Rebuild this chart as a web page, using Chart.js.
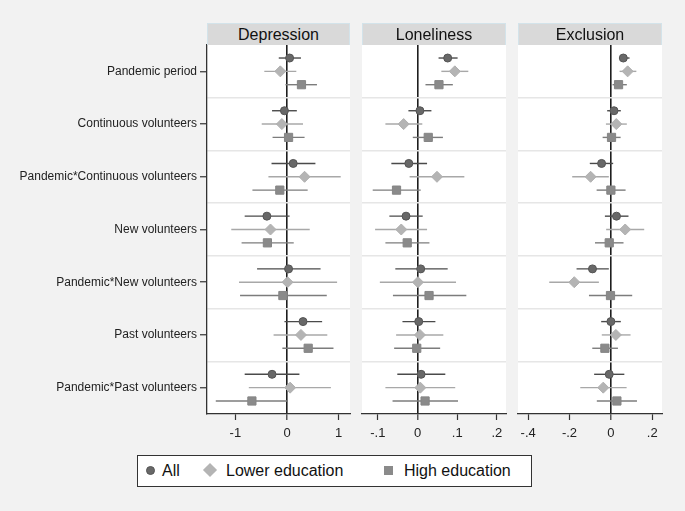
<!DOCTYPE html>
<html>
<head>
<meta charset="utf-8">
<script src="https://cdn.jsdelivr.net/npm/chart.js@4.4.1/dist/chart.umd.min.js"></script>
<style>
  html, body { margin: 0; padding: 0; background: #f2f2f2; }
  #wrap { position: relative; width: 685px; height: 511px; overflow: hidden; font-family: "Liberation Sans", Arial, sans-serif; }
  #wrap canvas { position: absolute; left: 0; top: 0; }
  .head { position: absolute; top: 23px; height: 22px; box-sizing: border-box; background: #d9d9d9; border: 1px solid #d3e3ea; border-bottom: none; text-align: center; font-size: 16px; line-height: 21px; color: #111; }
  #legend { position: absolute; left: 137px; top: 455px; width: 395px; height: 32px; box-sizing: border-box; background: #fff; border: 1px solid #333; font-size: 16px; color: #111; }
  #legend span { position: absolute; top: 6px; }
  .mk { position: absolute; }
</style>
</head>
<body>
<div id="wrap">
  <canvas id="c1" width="685" height="511"></canvas>
  <canvas id="c2" width="685" height="511"></canvas>
  <canvas id="c3" width="685" height="511"></canvas>
  <div class="head" style="left:207px;width:143px">Depression</div>
  <div class="head" style="left:362px;width:144px">Loneliness</div>
  <div class="head" style="left:518px;width:144px">Exclusion</div>
  <div id="legend">
    <div class="mk" style="left:8px;top:10px;width:9px;height:9px;border-radius:50%;background:#686868;border:1px solid #555;box-sizing:border-box"></div>
    <span style="left:24px">All</span>
    <div class="mk" style="left:67px;top:9px;width:10px;height:10px;background:#b4b4b4;transform:rotate(45deg)"></div>
    <span style="left:88px">Lower education</span>
    <div class="mk" style="left:246px;top:10px;width:9px;height:9px;background:#8a8a8a"></div>
    <span style="left:266px">High education</span>
  </div>
</div>
<script>
const categories = ['Pandemic period', 'Continuous volunteers', 'Pandemic*Continuous volunteers', 'New volunteers',
    'Pandemic*New volunteers', 'Past volunteers', 'Pandemic*Past volunteers']
const groups = ['All', 'Lower education', 'High education']

// Depression: estimate, lower CI, upper CI
const depAll = [0.05, -0.05, 0.12, -0.39, 0.03, 0.31, -0.29]
const depAllLo = [-0.16, -0.29, -0.30, -0.82, -0.58, -0.05, -0.82]
const depAllHi = [0.27, 0.19, 0.55, 0.05, 0.65, 0.68, 0.24]
const depLow = [-0.13, -0.10, 0.34, -0.32, 0.01, 0.27, 0.06]
const depLowLo = [-0.44, -0.49, -0.36, -1.08, -0.93, -0.26, -0.74]
const depLowHi = [0.18, 0.31, 1.04, 0.44, 0.97, 0.78, 0.85]
const depHigh = [0.28, 0.03, -0.14, -0.38, -0.08, 0.41, -0.68]
const depHighLo = [-0.03, -0.28, -0.67, -0.88, -0.91, -0.09, -1.38]
const depHighHi = [0.58, 0.34, 0.40, 0.13, 0.77, 0.90, 0.00]

// Loneliness
const lonAll = [0.076, 0.006, -0.022, -0.029, 0.008, 0.003, 0.009]
const lonAllLo = [0.053, -0.023, -0.066, -0.071, -0.056, -0.038, -0.051]
const lonAllHi = [0.101, 0.035, 0.024, 0.013, 0.076, 0.045, 0.070]
const lonLow = [0.094, -0.035, 0.049, -0.041, 0.001, 0.006, 0.007]
const lonLowLo = [0.060, -0.081, -0.020, -0.107, -0.095, -0.054, -0.081]
const lonLowHi = [0.128, 0.012, 0.118, 0.024, 0.097, 0.065, 0.095]
const lonHigh = [0.054, 0.027, -0.053, -0.026, 0.029, -0.002, 0.019]
const lonHighLo = [0.020, -0.012, -0.113, -0.081, -0.062, -0.059, -0.063]
const lonHighHi = [0.089, 0.064, 0.008, 0.030, 0.123, 0.057, 0.102]

// Exclusion
const excAll = [0.060, 0.015, -0.045, 0.027, -0.089, 0.000, -0.008]
const excAllLo = [0.040, -0.018, -0.102, -0.029, -0.166, -0.047, -0.081]
const excAllHi = [0.090, 0.048, 0.011, 0.085, -0.010, 0.048, 0.065]
const excLow = [0.081, 0.026, -0.098, 0.069, -0.177, 0.024, -0.037]
const excLowLo = [0.042, -0.024, -0.187, -0.023, -0.298, -0.044, -0.148]
const excLowHi = [0.123, 0.077, -0.010, 0.161, -0.058, 0.095, 0.076]
const excHigh = [0.037, 0.003, 0.000, -0.008, -0.002, -0.029, 0.029]
const excHighLo = [0.008, -0.040, -0.069, -0.077, -0.106, -0.090, -0.068]
const excHighHi = [0.077, 0.047, 0.071, 0.061, 0.103, 0.034, 0.126]

// x ticks
const depTicks = [-1, 0, 1]
const depTickLabels = ['-1', '0', '1']
const lonTicks = [-0.1, 0, 0.1, 0.2]
const lonTickLabels = ['-.1', '0', '.1', '.2']
const excTicks = [-0.4, -0.2, 0, 0.2]
const excTickLabels = ['-.4', '-.2', '0', '.2']

// styling
const rowShift = 0.253
const pointStyles = ['circle', 'rectRot', 'rect']
const pointSizes = [4, 5.5, 5.8]
const markerColors = ['#686868', '#b4b4b4', '#8a8a8a']
const markerEdges = ['#555555', '#b0b0b0', '#858585']
const lineColors = ['#4a4a4a', '#a8a8a8', '#7c7c7c']
const font = '"Liberation Sans", Arial, sans-serif'

const plotBg = {
    id: 'plotBg',
    beforeDraw(chart){
        const a = chart.chartArea
        const c = chart.ctx
        c.save()
        c.fillStyle = '#ffffff'
        c.fillRect(a.left, a.top, a.right - a.left, a.bottom - a.top)
        c.restore()
    }
}

const makePanel = (id, cfg) =>{
    const datasets = []
    // markers first so they are drawn on top
    groups.forEach((g, gi) =>{
        datasets.push({
            label: g,
            data: cfg.est[gi].map((v, i) => ({x: v, y: i + 0.5 + (gi - 1) * rowShift})),
            pointStyle: pointStyles[gi],
            pointRadius: pointSizes[gi],
            backgroundColor: markerColors[gi],
            borderColor: markerEdges[gi],
            borderWidth: 1,
            showLine: false,
            order: 0
        })
    })
    // confidence intervals
    groups.forEach((g, gi) =>{
        cfg.lo[gi].forEach((lo, i) =>{
            const y = i + 0.5 + (gi - 1) * rowShift
            datasets.push({
                label: g + ' CI',
                data: [{x: lo, y: y}, {x: cfg.hi[gi][i], y: y}],
                showLine: true,
                borderColor: lineColors[gi],
                borderWidth: 1.4,
                pointRadius: 0,
                order: 1
            })
        })
    })

    return new Chart(document.getElementById(id), {
        type: 'scatter',
        data: { datasets },
        plugins: [plotBg],
        options: {
            responsive: false,
            animation: false,
            events: [],
            layout: { padding: cfg.padding },
            plugins: { legend: { display: false }, tooltip: { enabled: false } },
            scales: {
                x: {
                    type: 'linear',
                    min: cfg.min,
                    max: cfg.max,
                    afterBuildTicks: s => { s.ticks = cfg.ticks.map(v => ({value: v})) },
                    afterFit: s => { s.height = 36 },
                    ticks: {
                        callback: (v, i) => cfg.tickLabels[i],
                        font: { family: font, size: 13 },
                        color: '#222',
                        padding: 6,
                        maxRotation: 0,
                        autoSkip: false
                    },
                    grid: {
                        color: ctx => (ctx.tick && ctx.tick.value === 0) ? '#1e1e1e' : 'rgba(0,0,0,0)',
                        lineWidth: ctx => (ctx.tick && ctx.tick.value === 0) ? 1.6 : 1,
                        tickColor: '#333',
                        tickLength: 6,
                        tickWidth: 1.2
                    },
                    border: { display: true, color: '#333', width: 1.3 }
                },
                y: {
                    type: 'linear',
                    min: 0,
                    max: 7,
                    reverse: true,
                    afterBuildTicks: s => {
                        const t = []
                        for (let k = 0; k <= 14; k++) t.push({value: k / 2})
                        s.ticks = t
                    },
                    afterFit: s => { s.width = cfg.yWidth },
                    ticks: {
                        display: cfg.showLabels,
                        autoSkip: false,
                        callback: v => (v % 1 === 0.5) ? categories[Math.floor(v)] : '',
                        font: { family: font, size: 12 },
                        color: '#222',
                        padding: 3
                    },
                    grid: {
                        color: ctx => {
                            const v = ctx.tick ? ctx.tick.value : 0
                            return (v % 1 === 0 && v > 0 && v < 7) ? '#e6e6e6' : 'rgba(0,0,0,0)'
                        },
                        lineWidth: 1.5,
                        drawTicks: cfg.showLabels,
                        tickColor: ctx => (ctx.tick && ctx.tick.value % 1 === 0.5) ? '#333' : 'rgba(0,0,0,0)',
                        tickLength: 7,
                        tickWidth: 1.2
                    },
                    border: { display: cfg.showLabels, color: '#333', width: 1.3 }
                }
            }
        }
    })
}

makePanel('c1', {
    est: [depAll, depLow, depHigh],
    lo: [depAllLo, depLowLo, depHighLo],
    hi: [depAllHi, depLowHi, depHighHi],
    min: -1.55, max: 1.22,
    ticks: depTicks, tickLabels: depTickLabels,
    yWidth: 207, showLabels: true,
    padding: { left: 0, right: 335, top: 45, bottom: 61 }
})
makePanel('c2', {
    est: [lonAll, lonLow, lonHigh],
    lo: [lonAllLo, lonLowLo, lonHighLo],
    hi: [lonAllHi, lonLowHi, lonHighHi],
    min: -0.14, max: 0.223,
    ticks: lonTicks, tickLabels: lonTickLabels,
    yWidth: 0, showLabels: false,
    padding: { left: 362, right: 179, top: 45, bottom: 61 }
})
makePanel('c3', {
    est: [excAll, excLow, excHigh],
    lo: [excAllLo, excLowLo, excHighLo],
    hi: [excAllHi, excLowHi, excHighHi],
    min: -0.449, max: 0.247,
    ticks: excTicks, tickLabels: excTickLabels,
    yWidth: 0, showLabels: false,
    padding: { left: 518, right: 23, top: 45, bottom: 61 }
})
</script>
</body>
</html>
